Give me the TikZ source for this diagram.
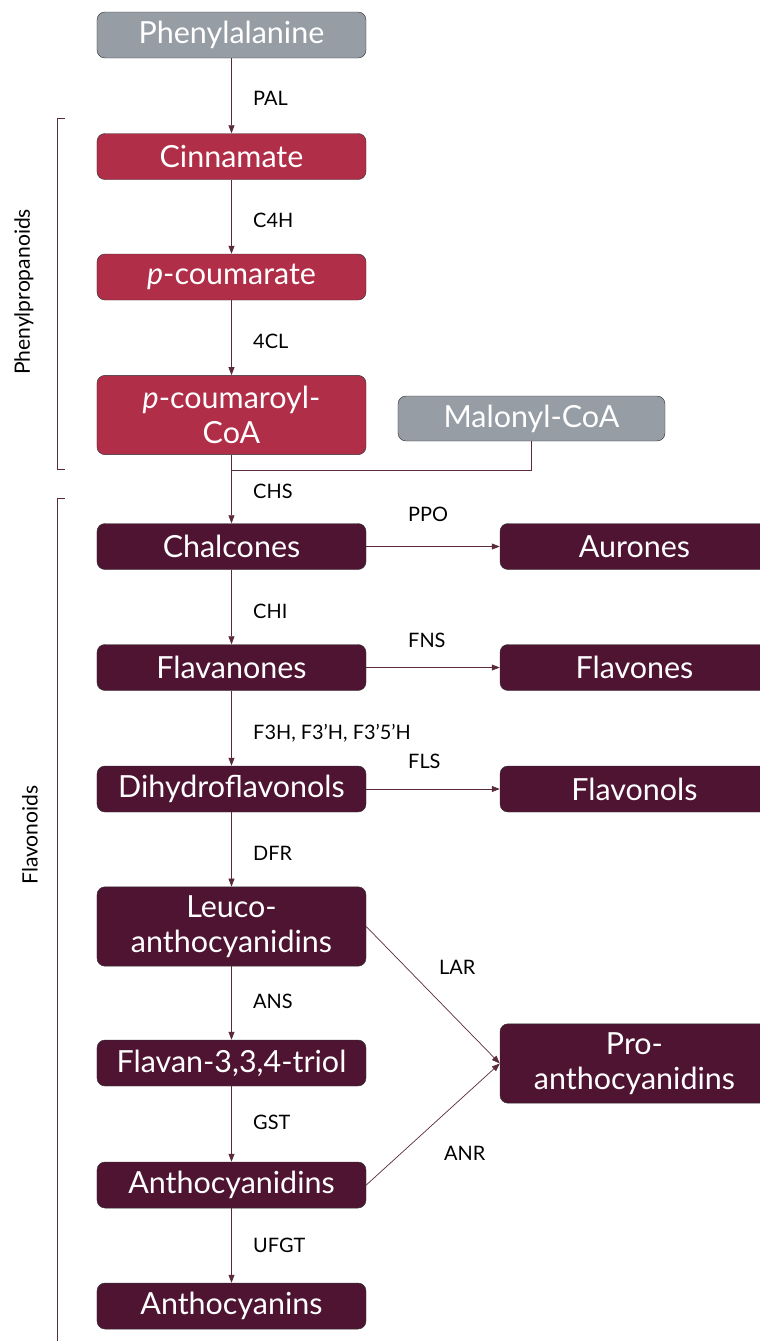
\documentclass[tikz,border=0pt]{standalone}
\usepackage{fontspec}
\setmainfont{Lato}
\usepackage{xcolor}
\usetikzlibrary{arrows.meta, positioning, shapes}

\definecolor{greybox}{HTML}{979DA5}
\definecolor{redbox}{HTML}{B02E48}
\definecolor{darkbox}{HTML}{4E1432}
\definecolor{linecol}{HTML}{5A2A3C}

\tikzset{
  compound/.style={draw=black!80, thin, rounded corners=0.24cm, text=white,
    minimum width=8.07cm, minimum height=1.38cm, align=center,
    font=\fontsize{26}{30}\selectfont, inner sep=1pt},
  precursor/.style={compound, fill=greybox},
  phenyl/.style={compound, fill=redbox},
  flavo/.style={compound, fill=darkbox},
  tall/.style={minimum height=2.38cm},
  enzyme/.style={anchor=west, font=\fontsize{17}{20}\selectfont, inner sep=0pt},
  reaction/.style={draw=linecol, semithick, -{Triangle[length=2.4mm,width=1.8mm]}},
  bracket/.style={draw=linecol, semithick},
}

\begin{document}
\begin{tikzpicture}[x=0.03cm, y=-0.03cm]
      \useasboundingbox (0,0) rectangle (760,1341);

      % Phenylpropanoid part
      \node[precursor] (phe) at (231.5,35) {Phenylalanine};
      \node[phenyl] (cin) at (231.5,156.5) {Cinnamate};
      \node[phenyl] (pcou) at (231.5,277) {\textit{p}-coumarate};
      \node[phenyl, tall] (pcoa) at (231.5,415) {\textit{p}-coumaroyl-\\CoA};
      \node[precursor, minimum width=8.01cm, minimum height=1.35cm] (mal) at (531.5,418.5) {Malonyl-CoA};

      % Flavonoid part
      \node[flavo] (chal) at (231.5,546.5) {Chalcones};
      \node[flavo] (aur) at (634.5,546.5) {Aurones};
      \node[flavo] (flan) at (231.5,667.5) {Flavanones};
      \node[flavo] (flon) at (634.5,667.5) {Flavones};
      \node[flavo] (dhf) at (231.5,789) {Dihydroflavonols};
      \node[flavo] (flol) at (634.5,789) {Flavonols};
      \node[flavo, tall] (leuco) at (231.5,926.5) {Leuco-\\anthocyanidins};
      \node[flavo] (triol) at (231.5,1063) {Flavan-3,3,4-triol};
      \node[flavo] (acnd) at (231.5,1185) {Anthocyanidins};
      \node[flavo] (acn) at (231.5,1306) {Anthocyanins};
      \node[flavo, tall] (pro) at (634.5,1063.5) {Pro-\\anthocyanidins};

      % Main chain
      \draw[reaction] (phe) -- (cin);
      \draw[reaction] (cin) -- (pcou);
      \draw[reaction] (pcou) -- (pcoa);
      \coordinate (join) at (231.5,470);
      \draw[linecol, semithick] (mal.south) |- (join);
      \draw[reaction] (pcoa) -- (chal);
      \draw[reaction] (chal) -- (flan);
      \draw[reaction] (flan) -- (dhf);
      \draw[reaction] (dhf) -- (leuco);
      \draw[reaction] (leuco) -- (triol);
      \draw[reaction] (triol) -- (acnd);
      \draw[reaction] (acnd) -- (acn);

      % Side branches
      \draw[reaction] (chal) -- (aur);
      \draw[reaction] (flan) -- (flon);
      \draw[reaction] (dhf) -- (flol);
      \draw[reaction] (leuco.east) -- (pro.west);
      \draw[reaction] (acnd.east) -- (pro.west);

      % Enzymes
      \node[enzyme] (pal) at (253,98) {PAL};
      \node[enzyme] (c4h) at (253,220) {C4H};
      \node[enzyme] (fcl) at (253,341) {4CL};
      \node[enzyme] (chs) at (253,491) {CHS};
      \node[enzyme] (ppo) at (408,514) {PPO};
      \node[enzyme] (chi) at (253,611) {CHI};
      \node[enzyme] (fns) at (408,640) {FNS};
      \node[enzyme] (f3h) at (253,733) {F3H, F3'H, F3'5'H};
      \node[enzyme] (fls) at (408,761) {FLS};
      \node[enzyme] (dfr) at (253,853) {DFR};
      \node[enzyme] (lar) at (439,967) {LAR};
      \node[enzyme] (ans) at (253,1001) {ANS};
      \node[enzyme] (gst) at (253,1122) {GST};
      \node[enzyme] (anr) at (444,1153) {ANR};
      \node[enzyme] (ufgt) at (253,1245) {UFGT};

      % Group brackets
      \draw[bracket] (65,118) -- (57,118) -- (57,469) -- (65,469);
      \draw[bracket] (65,498) -- (57,498) -- (57,1345);
      \node[rotate=90, font=\fontsize{18}{21}\selectfont] (grp1) at (24,292) {Phenylpropanoids};
      \node[rotate=90, font=\fontsize{18}{21}\selectfont] (grp2) at (30,835) {Flavonoids};
    \end{tikzpicture}
\end{document}
